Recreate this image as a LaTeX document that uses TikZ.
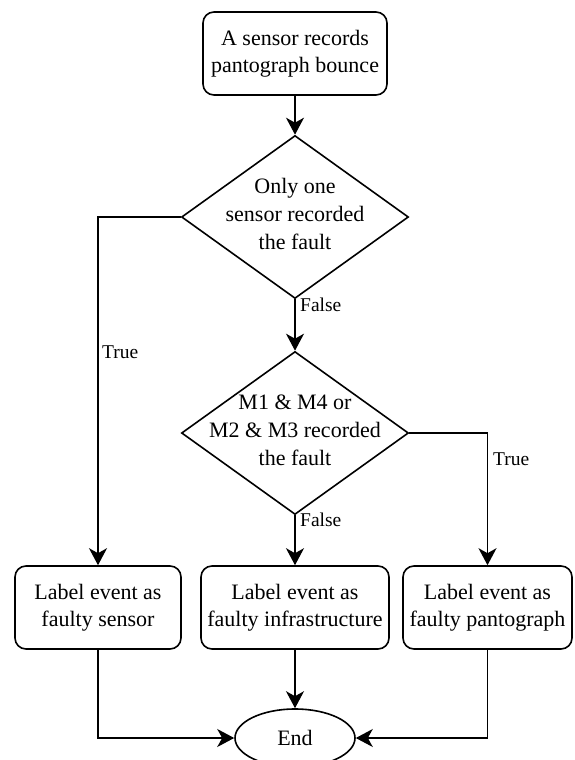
\documentclass[tikz,border=0pt]{standalone}
\usepackage{fontspec}
\setmainfont{Liberation Serif}
\usetikzlibrary{shapes.geometric,arrows.meta}
\begin{document}
\begin{tikzpicture}[x=1pt,y=-1pt,
  every node/.style={inner sep=0pt},
  line/.style={line width=1.6pt},
  arr/.style={line, -{Stealth[length=17pt,width=18pt,inset=5pt]}},
  box/.style={draw, line width=1.6pt, rounded corners=11pt, minimum height=83pt, align=center, font=\fontsize{22}{27}\selectfont},
  dia/.style={draw, diamond, line width=1.6pt, minimum width=227pt, minimum height=163pt},
  dtext/.style={align=center, font=\fontsize{22}{28}\selectfont},
  elab/.style={font=\fontsize{19.5}{22}\selectfont, anchor=base west},
  endnode/.style={draw, ellipse, line width=1.6pt, minimum width=120pt, minimum height=58pt, font=\fontsize{22}{27}\selectfont}
]
\useasboundingbox (0,0) rectangle (575,760);
\clip (0,0) rectangle (575,760);

\node[box, minimum width=184pt] (start) at (295,53.5) {A sensor records\\pantograph bounce};
\node[dia] (d1) at (295,217) {};
\node[dtext] (d1t) at (295,214) {Only one\\sensor recorded\\the fault};
\node[dia] (d2) at (295,433) {};
\node[dtext] (d2t) at (295,430) {M1 \& M4 or\\M2 \& M3 recorded\\the fault};

\node[box, minimum width=166pt] (sensor) at (98,607.5) {Label event as\\faulty sensor};
\node[box, minimum width=188pt] (infra) at (295,607.5) {Label event as\\faulty infrastructure};
\node[box, minimum width=169pt] (panto) at (487.5,607.5) {Label event as\\faulty pantograph};
\node[endnode] (end) at (295,738) {End};

\draw[arr] (start.south) -- (d1.north);
\draw[arr] (d1.south) -- (d2.north);
\draw[arr] (d1.west) -| (sensor.north);
\draw[arr] (d2.east) -| (panto.north);
\draw[arr] (d2.south) -- (infra.north);
\draw[arr] (infra.south) -- (end.north);
\draw[arr] (sensor.south) |- (end.west);
\draw[arr] (panto.south) |- (end.east);

\node[elab] (lf1) at (300,311) {False};
\node[elab] (lt1) at (102,358) {True};
\node[elab] (lf2) at (300,526) {False};
\node[elab] (lt2) at (493,465) {True};
\end{tikzpicture}
\end{document}
